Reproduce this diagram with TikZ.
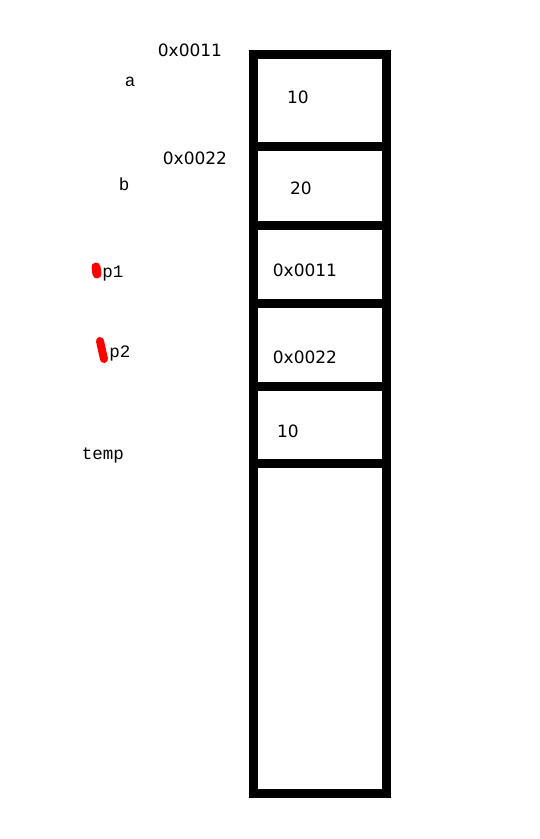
\documentclass[tikz,border=0pt]{standalone}
\usepackage{fontspec}
\newfontfamily\numfont{DejaVu Sans}
\newfontfamily\labfont{Liberation Mono}
\begin{document}
\begin{tikzpicture}[x=1pt,y=-1pt,
  wall/.style={line width=9pt},
  cellval/.style={font=\numfont\fontsize{17}{17}\selectfont, inner sep=0pt, anchor=center},
  addr/.style={font=\numfont\fontsize{17}{17}\selectfont, inner sep=0pt, anchor=center},
  varlab/.style={font=\labfont\fontsize{17.5}{17.5}\selectfont, inner sep=0pt, anchor=center},
  blob/.style={draw=red, line cap=round}]
\useasboundingbox (0,0) rectangle (539,839);
\fill[white] (0,0) rectangle (539,839);
% outer column
\coordinate (tl) at (253,54.5);
\coordinate (br) at (386,793);
\draw[wall] (tl) rectangle (br);
% dividers
\coordinate (d1l) at (253,146); \coordinate (d1r) at (386,146);
\coordinate (d2l) at (253,225); \coordinate (d2r) at (386,225);
\coordinate (d3l) at (253,303.5); \coordinate (d3r) at (386,303.5);
\coordinate (d4l) at (253,386); \coordinate (d4r) at (386,386);
\coordinate (d5l) at (253,463.5); \coordinate (d5r) at (386,463.5);
\draw[wall] (d1l) -- (d1r);
\draw[wall] (d2l) -- (d2r);
\draw[wall] (d3l) -- (d3r);
\draw[wall] (d4l) -- (d4r);
\draw[wall] (d5l) -- (d5r);
% cell values
\node[cellval] (va) at (298,97) {10};
\node[cellval] (vb) at (301,188) {20};
\node[cellval] (vp1) at (305,270) {0x0011};
\node[cellval] (vp2) at (305,357) {0x0022};
\node[cellval] (vt) at (288,431) {10};
% addresses
\node[addr] (ada) at (190,50) {0x0011};
\node[addr] (adb) at (195,158) {0x0022};
% variable labels
\node[varlab] (la) at (130,82) {a};
\node[varlab] (lb) at (124,184) {b};
\node[varlab] (lp1) at (113,274) {p1};
\node[varlab] (lp2) at (120,353) {p2};
\node[varlab] (lt) at (103,455) {temp};
% red marks
\coordinate (r1a) at (96,267); \coordinate (r1b) at (97,274);
\draw[blob, line width=9pt] (r1a) -- (r1b);
\coordinate (r2a) at (100,341); \coordinate (r2b) at (104,359);
\draw[blob, line width=8pt] (r2a) -- (r2b);
\end{tikzpicture}
\end{document}
